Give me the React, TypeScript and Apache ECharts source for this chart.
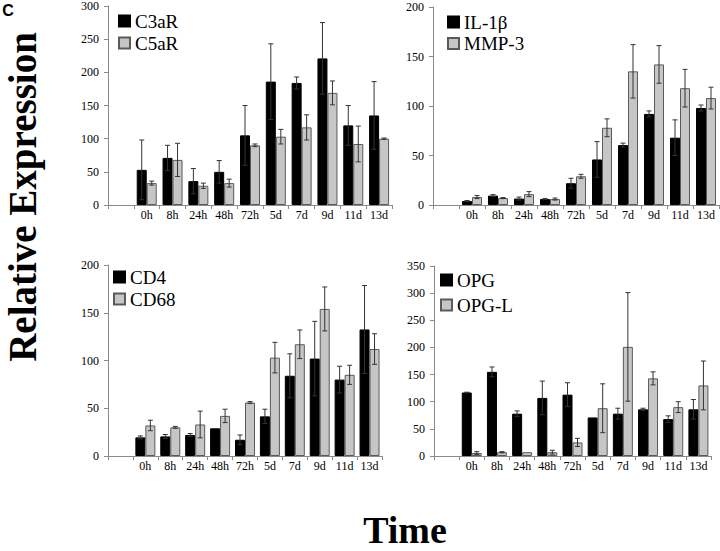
import React, { useEffect, useRef } from "react";
import * as echarts from "echarts";

// Time points (first axis slot is left empty, as in the figure)
const timePoints = ["0h", "8h", "24h", "48h", "72h", "5d", "7d", "9d", "11d", "13d"];

// Panel 1
const c3aR = [53, 71, 36, 50, 105, 186, 184, 221, 120, 135];
const c3aRErr = [45, 19, 19, 17, 45, 57, 9, 54, 30, 51];
const c5aR = [33, 68, 29, 33, 90, 103, 117, 169, 92, 100];
const c5aRErr = [3, 25, 4, 6, 2, 11, 19, 18, 27, 1];

// Panel 2
const il1b = [4, 9.5, 6.5, 6, 22, 46, 60.5, 92, 68, 98];
const il1bErr = [0.5, 1, 1.5, 0.5, 5, 18, 2, 3, 18, 3];
const mmp3 = [8, 7, 11, 6, 29, 78, 135, 142, 118, 108];
const mmp3Err = [1.5, 0.5, 2.5, 1, 2, 9, 27, 19, 19, 11];

// Panel 3
const cd4 = [19.5, 20.5, 22, 29, 17, 41.5, 84, 102, 80, 132.5];
const cd4Err = [1.5, 2, 1.5, 0, 5, 7.5, 23, 39, 14, 46];
const cd68 = [32, 30, 33, 42, 56, 103, 117, 154, 85, 112];
const cd68Err = [5.5, 1, 14, 7, 1, 16, 15, 23, 10, 16];

// Panel 4
const opg = [117, 155, 78, 107, 113, 71, 78, 86, 68, 86];
const opgErr = [0.5, 9, 5, 31, 22, 0, 10, 2, 6, 18];
const opgL = [5.5, 7, 7, 7, 25, 88, 201, 143, 90, 130];
const opgLErr = [2.5, 1, 0, 3.5, 7.5, 45, 100, 12, 10, 45];

const SERIF = "Liberation Serif";
const BAR_W = 10;
const AXIS_COLOR = "#8a8a8a";
const ERR_COLOR = "#333333";

const panels = [
  {
    grid: { left: 108, top: 6, width: 284, height: 199 },
    max: 300,
    names: ["C3aR", "C5aR"],
    a: c3aR, aErr: c3aRErr, b: c5aR, bErr: c5aRErr,
    legend: { left: 118, top: 11, gap: 2 },
  },
  {
    grid: { left: 433, top: 7, width: 286, height: 198 },
    max: 200,
    names: ["IL-1β", "MMP-3"],
    a: il1b, aErr: il1bErr, b: mmp3, bErr: mmp3Err,
    legend: { left: 447, top: 12, gap: 1.5 },
  },
  {
    grid: { left: 108, top: 265, width: 274, height: 191 },
    max: 200,
    names: ["CD4", "CD68"],
    a: cd4, aErr: cd4Err, b: cd68, bErr: cd68Err,
    legend: { left: 113, top: 267, gap: 2 },
  },
  {
    grid: { left: 434, top: 266, width: 277, height: 190 },
    max: 350,
    names: ["OPG", "OPG-L"],
    a: opg, aErr: opgErr, b: opgL, bErr: opgLErr,
    legend: { left: 440, top: 270, gap: 5 },
  },
];

function errRender(offset: number) {
  return (params: any, api: any) => {
    const idx = api.value(0);
    const v = api.value(1);
    const e = api.value(2);
    if (!(e > 0)) return { type: "group", children: [] };
    const top = api.coord([idx, v + e]);
    const bot = api.coord([idx, Math.max(v - e, 0)]);
    const x = top[0] + offset;
    const cap = 2.5;
    const style = { stroke: ERR_COLOR, lineWidth: 1 };
    return {
      type: "group",
      children: [
        { type: "line", shape: { x1: x, y1: top[1], x2: x, y2: bot[1] }, style },
        { type: "line", shape: { x1: x - cap, y1: top[1], x2: x + cap, y2: top[1] }, style },
        { type: "line", shape: { x1: x - cap, y1: bot[1], x2: x + cap, y2: bot[1] }, style },
      ],
    };
  };
}

function buildOption() {
  const axisData = ["", ...timePoints];
  const grids: any[] = [];
  const xAxes: any[] = [];
  const yAxes: any[] = [];
  const series: any[] = [];
  const legends: any[] = [];

  panels.forEach((p, i) => {
    grids.push({ ...p.grid, containLabel: false, outerBoundsMode: "none" });
    xAxes.push({
      type: "category",
      gridIndex: i,
      data: axisData,
      boundaryGap: true,
      axisLine: { show: true, lineStyle: { color: AXIS_COLOR, width: 1 } },
      axisTick: { show: true, interval: 0, length: 4, lineStyle: { color: AXIS_COLOR } },
      axisLabel: {
        interval: 0,
        margin: 4,
        color: "#000",
        fontFamily: SERIF,
        fontSize: 12,
        lineHeight: 12,
        textStyle: { fontFamily: SERIF },
      },
      splitLine: { show: false },
    });
    yAxes.push({
      type: "value",
      gridIndex: i,
      min: 0,
      max: p.max,
      interval: 50,
      axisLine: { show: true, lineStyle: { color: AXIS_COLOR, width: 1 } },
      axisTick: { show: true, length: 4, lineStyle: { color: AXIS_COLOR } },
      axisLabel: {
        margin: 9,
        color: "#000",
        fontFamily: SERIF,
        fontSize: 12,
        lineHeight: 12,
        textStyle: { fontFamily: SERIF },
      },
      splitLine: { show: false },
    });
    series.push({
      type: "bar",
      name: p.names[0],
      xAxisIndex: i,
      yAxisIndex: i,
      barWidth: BAR_W,
      barGap: "0%",
      data: ["-", ...p.a],
      itemStyle: { color: "#000000", borderColor: "#000000", borderWidth: 1 },
    });
    series.push({
      type: "bar",
      name: p.names[1],
      xAxisIndex: i,
      yAxisIndex: i,
      barWidth: BAR_W,
      barGap: "0%",
      data: ["-", ...p.b],
      itemStyle: { color: "#c6c6c6", borderColor: "#5a5a5a", borderWidth: 1 },
    });
    series.push({
      type: "custom",
      name: p.names[0] + " err",
      xAxisIndex: i,
      yAxisIndex: i,
      z: 5,
      renderItem: errRender(-BAR_W / 2),
      encode: { x: 0, y: 1 },
      data: p.a.map((v, k) => [k + 1, v, p.aErr[k]]),
    });
    series.push({
      type: "custom",
      name: p.names[1] + " err",
      xAxisIndex: i,
      yAxisIndex: i,
      z: 5,
      renderItem: errRender(BAR_W / 2),
      encode: { x: 0, y: 1 },
      data: p.b.map((v, k) => [k + 1, v, p.bErr[k]]),
    });
    legends.push({
      data: p.names,
      orient: "vertical",
      left: p.legend.left,
      top: p.legend.top,
      padding: 0,
      itemGap: p.legend.gap,
      itemWidth: 11,
      itemHeight: 11,
      icon: "rect",
      selectedMode: false,
      textStyle: { fontFamily: SERIF, fontSize: 19, lineHeight: 20, color: "#000" },
    });
  });

  return {
    animation: false,
    backgroundColor: "#ffffff",
    textStyle: { fontFamily: SERIF },
    grid: grids,
    xAxis: xAxes,
    yAxis: yAxes,
    legend: legends,
    series,
    graphic: [
      {
        type: "text",
        x: 8,
        y: 10,
        style: {
          text: "C",
          x: 0,
          y: 0,
          fill: "#000",
          fontFamily: "Liberation Sans",
          fontWeight: "bold",
          fontSize: 16,
          lineHeight: 16,
          textAlign: "center",
          textVerticalAlign: "middle",
          align: "center",
          verticalAlign: "middle",
        },
      },
      {
        type: "text",
        x: 22,
        y: 197,
        rotation: Math.PI / 2,
        style: {
          text: "Relative Expression",
          x: 0,
          y: 0,
          fill: "#000",
          fontFamily: SERIF,
          fontWeight: "bold",
          fontSize: 39,
          lineHeight: 30,
          textAlign: "center",
          textVerticalAlign: "middle",
          align: "center",
          verticalAlign: "middle",
        },
      },
      {
        type: "text",
        x: 405,
        y: 530,
        style: {
          text: "Time",
          x: 0,
          y: 0,
          fill: "#000",
          fontFamily: SERIF,
          fontWeight: "bold",
          fontSize: 38,
          lineHeight: 30,
          textAlign: "center",
          textVerticalAlign: "middle",
          align: "center",
          verticalAlign: "middle",
        },
      },
    ],
  };
}

export default function App() {
  const ref = useRef<HTMLDivElement>(null);
  useEffect(() => {
    if (!ref.current) return;
    const chart = echarts.init(ref.current, null, { renderer: "svg", width: 720, height: 551 });
    chart.setOption(buildOption() as any);
    return () => {
      chart.dispose();
    };
  }, []);
  return (
    <div
      ref={ref}
      style={{ position: "fixed", left: 0, top: 0, width: 720, height: 551, background: "#fff" }}
    />
  );
}
